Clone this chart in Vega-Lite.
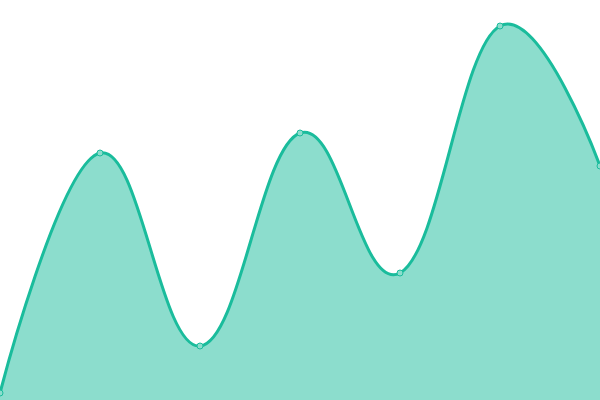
{
  "$schema": "https://vega.github.io/schema/vega-lite/v6.json",
  "width": 600,
  "height": 400,
  "autosize": "none",
  "padding": 0,
  "background": "#ffffff",
  "view": {"stroke": null},
  "data": {
    "values": [
      {"x": 0, "y": 7},
      {"x": 1, "y": 247},
      {"x": 2, "y": 54},
      {"x": 3, "y": 267},
      {"x": 4, "y": 127},
      {"x": 5, "y": 374},
      {"x": 6, "y": 234}
    ]
  },
  "encoding": {
    "x": {"field": "x", "type": "quantitative", "axis": null, "scale": {"domain": [0, 6], "nice": false, "zero": false}},
    "y": {"field": "y", "type": "quantitative", "axis": null, "scale": {"domain": [0, 400], "nice": false}}
  },
  "layer": [
    {
      "mark": {
        "type": "area",
        "interpolate": "cardinal",
        "tension": -0.2,
        "color": "#8cddcd",
        "clip": true
      }
    },
    {
      "mark": {
        "type": "line",
        "interpolate": "cardinal",
        "tension": -0.2,
        "color": "#1abc9c",
        "strokeWidth": 3,
        "clip": true
      }
    },
    {
      "mark": {
        "type": "point",
        "shape": "circle",
        "size": 36,
        "filled": true,
        "fill": "#8cddcd",
        "stroke": "#1abc9c",
        "strokeWidth": 1,
        "opacity": 1
      }
    }
  ]
}
